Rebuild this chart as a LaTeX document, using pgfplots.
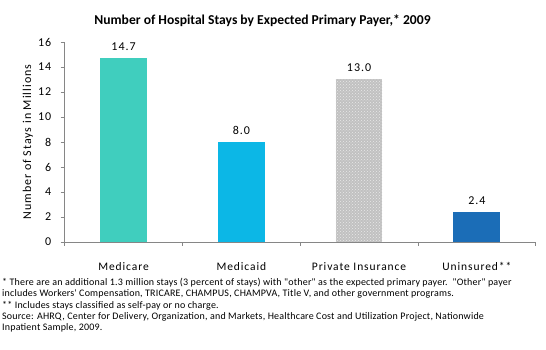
\documentclass[border=0pt]{standalone}
\usepackage{pgfplots}
\pgfplotsset{compat=1.18}
\usepackage{fontspec}
\setmainfont{Carlito}
\newfontfamily\spfont[LetterSpace=8]{Carlito}
\newfontfamily\fnfont[LetterSpace=2]{Carlito}
\usetikzlibrary{patterns}
\definecolor{cMedicare}{HTML}{40CEBE}
\definecolor{cMedicaid}{HTML}{0CB7E6}
\definecolor{cPrivate}{HTML}{B6B6B6}
\definecolor{cUnins}{HTML}{1B6DB7}
\definecolor{axisgray}{HTML}{868686}
\begin{document}
\begin{tikzpicture}[x=1pt,y=1pt]
\path[use as bounding box] (0,0) rectangle (546,350);
\node[font=\bfseries\fontsize{13.6}{15}\selectfont] at (262.5,329) {Number of Hospital Stays by Expected Primary Payer,* 2009};
\begin{axis}[
  at={(64.7pt,108pt)}, anchor=south west,
  scale only axis, width=471pt, height=200pt,
  xmin=-0.5, xmax=3.5, ymin=0, ymax=16,
  axis x line*=bottom, axis y line*=left,
  axis line style={axisgray, line width=0.8pt},
  ytick={0,2,...,16},
  yticklabel style={font=\spfont\fontsize{12}{14}\selectfont, xshift=-6pt},
  /pgf/number format/assume math mode=true,
  tick style={axisgray, line width=0.8pt},
  major tick length=4pt,
  tick align=outside,
  xtick={-0.5,0.5,1.5,2.5,3.5}, xticklabels={},
  extra x ticks={0,1,2,3},
  extra x tick labels={Medicare,Medicaid,Private Insurance,Uninsured**},
  extra x tick style={major tick length=0pt, tick label style={font=\spfont\fontsize{11.5}{13}\selectfont, yshift=-17pt}},
  ylabel={Number of Stays in Millions},
  ylabel style={font=\spfont\fontsize{12}{14}\selectfont, yshift=-2pt},
  bar width=46.7pt,
  ybar, bar shift=0pt,
  nodes near coords,
  nodes near coords style={font=\spfont\fontsize{12}{14}\selectfont, yshift=4pt, /pgf/number format/fixed, /pgf/number format/fixed zerofill, /pgf/number format/precision=1},
  clip=false,
]
\addplot[fill=cMedicare, draw=none] coordinates {(0,14.7)};
\addplot[fill=cMedicaid, draw=none] coordinates {(1,8.0)};
\addplot[fill=cPrivate!85!white, draw=none, postaction={pattern=crosshatch dots, pattern color=white!70!cPrivate}] coordinates {(2,13.0)};
\addplot[fill=cUnins, draw=none] coordinates {(3,2.4)};
\end{axis}
\node[anchor=north west, align=left, font=\fnfont\fontsize{10}{11.3}\selectfont, inner sep=0pt] at (2,72) {%
* There are an additional 1.3 million stays (3 percent of stays) with "other" as the expected primary payer.\ \ "Other" payer\\
includes Workers' Compensation, TRICARE, CHAMPUS, CHAMPVA, Title V, and other government programs.\\
** Includes stays classified as self-pay or no charge.\\
Source: AHRQ, Center for Delivery, Organization, and Markets, Healthcare Cost and Utilization Project, Nationwide\\
Inpatient Sample, 2009.};
\end{tikzpicture}
\end{document}
